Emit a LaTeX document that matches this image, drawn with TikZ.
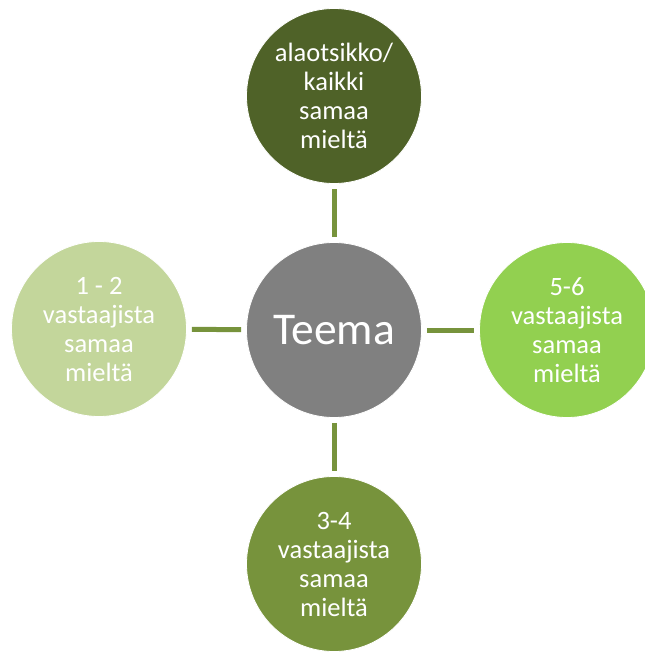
\documentclass[tikz,border=0pt]{standalone}
\usepackage{fontspec}
\setmainfont{Carlito}
\definecolor{cTop}{HTML}{4F6228}
\definecolor{cLeft}{HTML}{C3D69B}
\definecolor{cRight}{HTML}{92D050}
\definecolor{cBottom}{HTML}{77933C}
\definecolor{cCenter}{HTML}{808080}
\definecolor{cLine}{HTML}{77933C}
\begin{document}
\begin{tikzpicture}[x=1pt,y=-1pt,
  bubble/.style={circle,draw=white,line width=0.8pt,minimum size=175pt,inner sep=0pt,text=white,align=center,font=\fontsize{26.5}{29}\selectfont},
  link/.style={draw=cLine,line width=5pt,shorten <=5pt,shorten >=5pt}]
\useasboundingbox (0,0) rectangle (644,652);
\node[bubble,fill=cCenter,font=\fontsize{45.5}{50}\selectfont] (c) at (334,330) {Teema};
\node[bubble,fill=cTop] (t) at (334,96) {alaotsikko/\\kaikki\\samaa\\mieltä};
\node[bubble,fill=cLeft] (l) at (99,329) {1 - 2\\vastaajista\\samaa\\mieltä};
\node[bubble,fill=cRight] (r) at (567,330) {5-6\\vastaajista\\samaa\\mieltä};
\node[bubble,fill=cBottom] (b) at (334,564) {3-4\\vastaajista\\samaa\\mieltä};
\draw[link] (c) -- (t);
\draw[link] (c) -- (l);
\draw[link] (c) -- (r);
\draw[link] (c) -- (b);
\end{tikzpicture}
\end{document}
